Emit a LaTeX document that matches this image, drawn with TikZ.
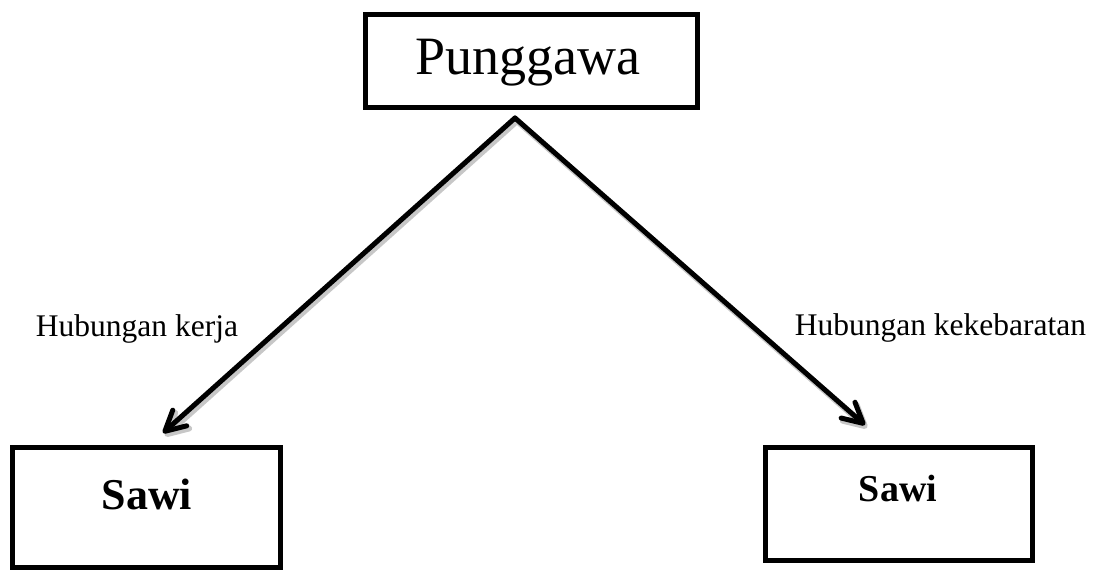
\documentclass[tikz,border=0pt]{standalone}
\usepackage{fontspec}
\setmainfont{Liberation Serif}
\usetikzlibrary{arrows.meta}
\tikzset{
  box/.style={rectangle, draw, line width=5pt},
  rel/.style={line width=5pt, line cap=round, -{Straight Barb[round, length=20pt, width=21pt]},
    preaction={draw=black!22, line width=6pt, transform canvas={shift={(2pt,-3pt)}}}},
}
\begin{document}
\begin{tikzpicture}[x=1pt, y=1pt]
\useasboundingbox (0,0) rectangle (1096,572);
\node [box, minimum width=332pt, minimum height=93pt] (pg) at (531.5,511) {};
\node [anchor=base, font=\fontsize{54}{60}\selectfont] (pgtext) at (527.5,497) {Punggawa};
\node [box, minimum width=268pt, minimum height=120pt] (s1) at (146.5,64.5) {};
\node [anchor=base, font=\fontsize{44}{50}\selectfont\bfseries] (s1text) at (147,62) {Sawi};
\node [box, minimum width=267pt, minimum height=113pt] (s2) at (899,68) {};
\node [anchor=base, font=\fontsize{38}{44}\selectfont\bfseries] (s2text) at (898,70) {Sawi};
\coordinate (apex) at (515,454);
\coordinate (e1) at (163,139);
\coordinate (e2) at (865,147);
\draw [rel] (apex) -- (e1);
\draw [rel] (apex) -- (e2);
\node [anchor=base, font=\fontsize{31.5}{36}\selectfont] (kerja) at (137,235) {Hubungan kerja};
\node [anchor=base, font=\fontsize{31.5}{36}\selectfont] (kebarat) at (940.5,236) {Hubungan kekebaratan};
\end{tikzpicture}
\end{document}
